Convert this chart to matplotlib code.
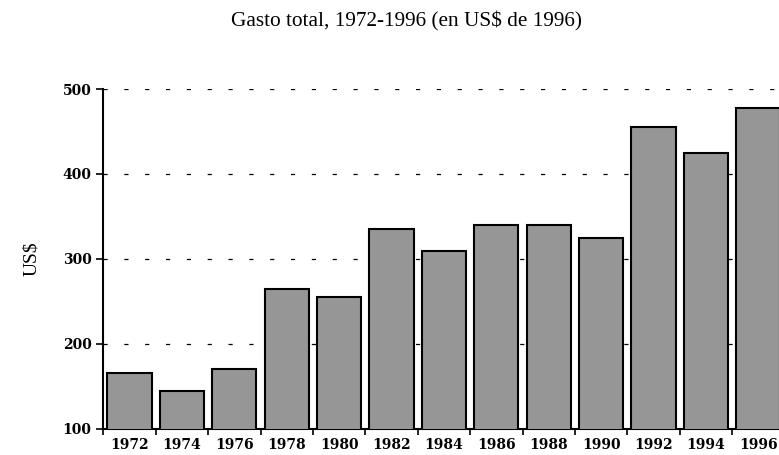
import numpy as np
import matplotlib.pyplot as plt

# data
years = ["1972", "1974", "1976", "1978", "1980", "1982", "1984",
         "1986", "1988", "1990", "1992", "1994", "1996"]
gasto = [165, 144, 170, 264, 255, 335, 309, 340, 340, 325, 455, 425, 478]
yticks = [100, 200, 300, 400, 500]

plt.rcParams['lines.scale_dashes'] = False

fig = plt.figure(figsize=(7.79, 4.55), dpi=100)
ax = fig.add_axes([103.3 / 779, 26.3 / 455, 13 * 52.4 / 779, 339.7 / 455])

x = np.arange(len(years))
ax.bar(x, gasto, width=0.84, bottom=0, color="#969696",
       edgecolor="black", linewidth=1.5, zorder=3)

ax.set_xlim(-0.5, len(years) - 0.5)
ax.set_ylim(100, 500)
ax.set_yticks(yticks)
ax.set_yticklabels([str(v) for v in yticks], family="DejaVu Serif",
                   fontweight="bold", fontsize=10)

# category labels under bars, tick marks on boundaries
ax.set_xticks(x)
ax.set_xticklabels(years, family="DejaVu Serif", fontweight="bold", fontsize=10)
ax.tick_params(axis="x", which="major", length=0, pad=7)
ax.set_xticks(np.arange(-0.5, len(years)), minor=True)
ax.tick_params(axis="x", which="minor", length=4, width=1.2, direction="out")
ax.tick_params(axis="y", length=5, width=1.2, direction="out", pad=3.5)

for v in yticks[1:]:
    ax.axhline(v, color="black", linewidth=0.9, linestyle=(0, (3, 12)), zorder=1)

for s in ["top", "right"]:
    ax.spines[s].set_visible(False)
for s in ["left", "bottom"]:
    ax.spines[s].set_linewidth(1.5)

ax.set_ylabel("US$", family="Liberation Serif", fontsize=14)
ax.yaxis.set_label_coords((40 - 103.3) / 681.3, 0.5)
fig.text(406 / 779, 1 - 21 / 455, "Gasto total, 1972-1996 (en US$ de 1996)",
         family="Liberation Serif", fontsize=15.3, ha="center", va="center")

fig.savefig("out.png", dpi=100)
